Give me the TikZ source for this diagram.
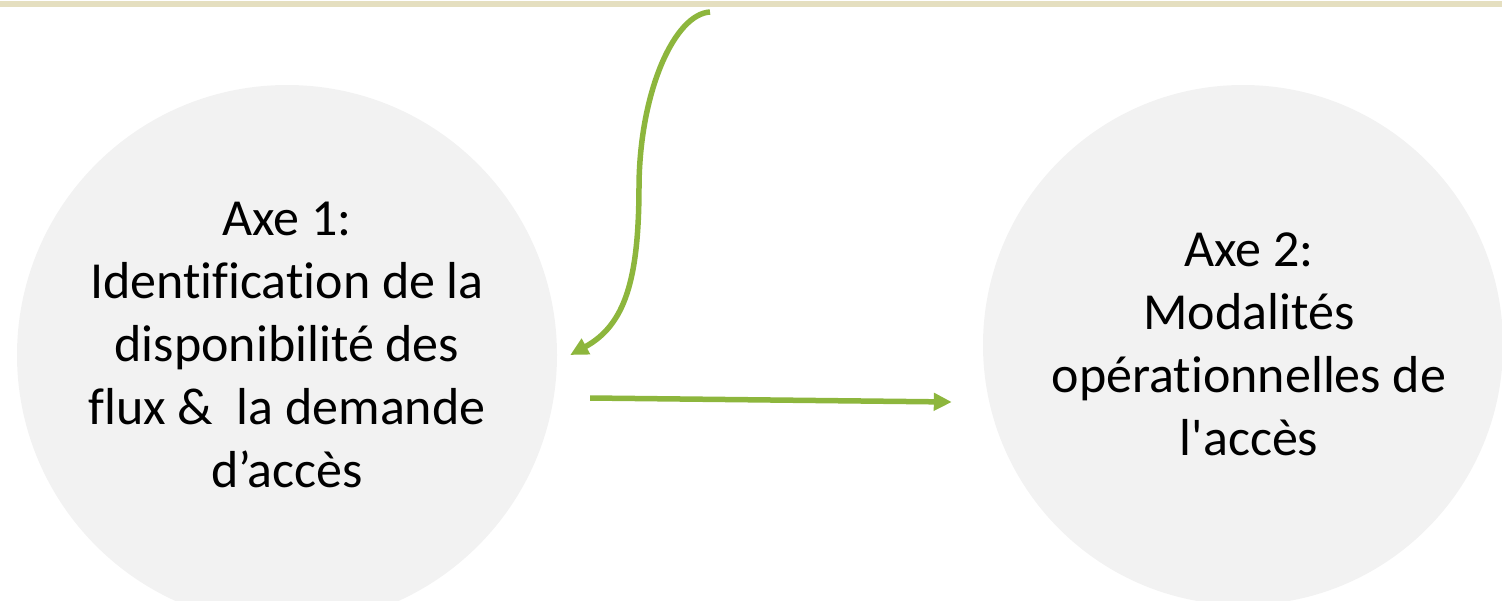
\documentclass[tikz,border=0pt]{standalone}
\usepackage{fontspec}
\setmainfont{Carlito}[RawFeature={-liga}]
\usetikzlibrary{arrows.meta, positioning}
\definecolor{leaf}{HTML}{8DB63D}
\definecolor{disc}{HTML}{F2F2F2}
\definecolor{sand}{HTML}{E5DFC0}
\tikzset{
    axis/.style = {circle, fill=disc, inner sep=0},
    axis text/.style = {align=center, inner sep=0,
      font=\fontsize{52}{63}\selectfont},
    link/.style = {line width=5.5pt, leaf,
      arrows={-Triangle[length=18pt, width=17pt]}},
    top rule/.style = {fill=sand},
}

\begin{document}
\begin{tikzpicture}[x=1pt, y=-1pt]
    \useasboundingbox (0,0) rectangle (1502,600);
    \clip (0,0) rectangle (1502,600);

    %% Band along the top edge
    \fill [top rule] (0,1) rectangle (1502,7);

    %% The two axes
    \node [axis, minimum size=540pt] (axe1) at (287,355) {};
    \node [axis, minimum size=520pt] (axe2) at (1243,345) {};
    \node [axis text] (axe1_text) at (287,345)
      {Axe 1:\\Identification de la\\disponibilité des\\flux \&\ \ la demande\\d’accès};
    \node [axis text] (axe2_text) at (1249,344)
      {Axe 2:\\Modalités\\opérationnelles de\\l\textquotesingle accès};

    %% Arrow coming in from the top
    \coordinate (feed) at (710,12);
    \draw [link] (feed) .. controls (675,14) and (640,90) .. (639,185)
      .. controls (639,280) and (625,325) .. ([xshift=13pt] axe1.east);

    %% Link from the first axis to the second
    \draw [link] ([shift={(33,43)}] axe1.east) -- ([shift={(-31,57)}] axe2.west);
\end{tikzpicture}
\end{document}
